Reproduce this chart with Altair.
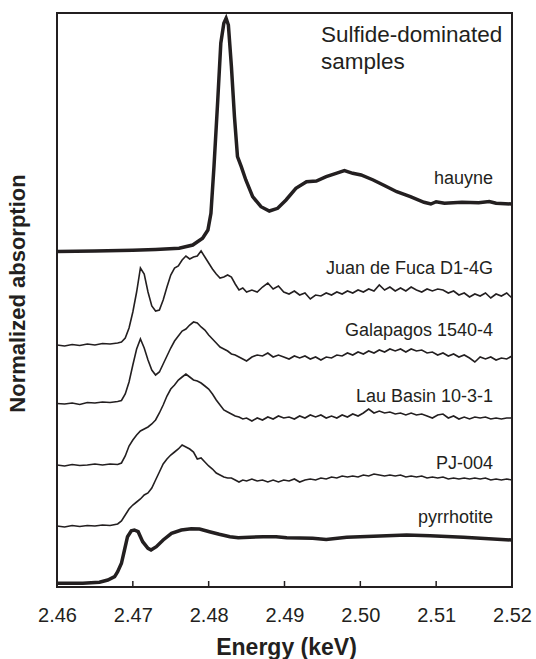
import altair as alt
import pandas as pd

INK = "#231f20"
FONT = "Liberation Sans"

# ---- shared energy grid for the noisy sample spectra (keV) ----
thin_energy = [
    2.460, 2.461, 2.462, 2.463, 2.464, 2.465, 2.466, 2.467, 2.468,
    2.4685, 2.4690, 2.4695, 2.4700, 2.4705, 2.4710, 2.4715, 2.4720, 2.4725, 2.4730,
    2.4735, 2.4740, 2.4745, 2.4750, 2.4755, 2.4760, 2.4765, 2.4770, 2.4775, 2.4780,
    2.4785, 2.4790, 2.4795, 2.4800, 2.4805, 2.4810, 2.4815, 2.4820, 2.4825, 2.4830,
    2.4835, 2.4840, 2.4845, 2.4850,
    2.4857, 2.4864, 2.4871, 2.4878, 2.4885, 2.4892, 2.4899, 2.4906, 2.4913, 2.4920,
    2.4927, 2.4934, 2.4941, 2.4948, 2.4955, 2.4962, 2.4969, 2.4976, 2.4983, 2.4990,
    2.4997, 2.5004, 2.5011, 2.5018, 2.5025, 2.5032, 2.5039, 2.5046, 2.5053, 2.5060,
    2.5067, 2.5074, 2.5081, 2.5088, 2.5095, 2.5102, 2.5109, 2.5116, 2.5123, 2.5130,
    2.5137, 2.5144, 2.5151, 2.5158, 2.5165, 2.5172, 2.5179, 2.5186, 2.5193, 2.5200,
]

# ---- stacked (offset) normalized absorption values ----
juan_de_fuca = [
    2.42, 2.41, 2.425, 2.415, 2.43, 2.42, 2.435, 2.43, 2.44,
    2.45, 2.49, 2.59, 2.75, 2.95, 3.19, 3.13, 2.95, 2.81, 2.76,
    2.77, 2.87, 3.00, 3.12, 3.19, 3.21, 3.27, 3.31, 3.28, 3.30,
    3.31, 3.36, 3.30, 3.24, 3.18, 3.13, 3.09, 3.10, 3.12, 3.10,
    3.03, 2.97, 2.99, 2.95,
    2.97, 2.95, 3.00, 3.04, 2.98, 3.01, 2.95, 2.93, 2.96, 2.92,
    2.94, 2.88, 2.92, 2.91, 2.94, 2.92, 2.95, 2.93, 2.96, 2.94,
    2.97, 2.95, 2.98, 2.96, 3.02, 2.97, 3.00, 2.96, 2.99, 2.96,
    3.00, 2.97, 2.95, 2.98, 2.96, 2.98, 2.97, 2.94, 2.96, 2.92,
    2.94, 2.90, 2.93, 2.91, 2.94, 2.89, 2.93, 2.91, 2.94, 2.89,
]
galapagos = [
    1.835, 1.83, 1.84, 1.825, 1.845, 1.84, 1.85, 1.845, 1.855,
    1.865, 1.93, 2.05, 2.22, 2.38, 2.48, 2.39, 2.27, 2.17, 2.12,
    2.15, 2.23, 2.31, 2.39, 2.46, 2.51, 2.56, 2.58, 2.62, 2.65,
    2.64, 2.60, 2.57, 2.52, 2.48, 2.44, 2.40, 2.38, 2.36, 2.33,
    2.32, 2.30, 2.28, 2.26,
    2.30, 2.32, 2.31, 2.34, 2.30, 2.32, 2.30, 2.28, 2.31, 2.29,
    2.31, 2.28, 2.30, 2.27, 2.30, 2.29, 2.32, 2.31, 2.34, 2.32,
    2.35, 2.33, 2.36, 2.34, 2.37, 2.35, 2.38, 2.36, 2.38, 2.35,
    2.38, 2.36, 2.37, 2.34, 2.35, 2.32, 2.34, 2.31, 2.33, 2.30,
    2.32, 2.29, 2.25, 2.30, 2.28, 2.30, 2.27, 2.29, 2.28, 2.31,
]
lau_basin = [
    1.22, 1.21, 1.225, 1.215, 1.22, 1.23, 1.22, 1.23, 1.225,
    1.24, 1.31, 1.41, 1.47, 1.52, 1.56, 1.58, 1.60, 1.63, 1.67,
    1.74, 1.82, 1.91, 1.98, 2.02, 2.07, 2.10, 2.13, 2.10, 2.07,
    2.06, 2.04, 2.01, 1.98, 1.93, 1.87, 1.82, 1.77, 1.75, 1.73,
    1.71, 1.70, 1.68, 1.69,
    1.66, 1.69, 1.67, 1.70, 1.68, 1.71, 1.69, 1.70, 1.68, 1.71,
    1.69, 1.72, 1.70, 1.72, 1.69, 1.71, 1.69, 1.72, 1.70, 1.73,
    1.71, 1.74, 1.78, 1.74, 1.76, 1.74, 1.75, 1.73, 1.74, 1.72,
    1.74, 1.72, 1.73, 1.71, 1.69, 1.72, 1.73, 1.69, 1.71, 1.68,
    1.70, 1.68, 1.70, 1.69, 1.70, 1.68, 1.69, 1.68, 1.69, 1.69,
]
pj_004 = [
    0.61, 0.60, 0.615, 0.605, 0.615, 0.61, 0.62, 0.615, 0.63,
    0.66, 0.72, 0.78, 0.82, 0.85, 0.88, 0.92, 0.94, 0.99, 1.07,
    1.15, 1.23, 1.28, 1.32, 1.35, 1.38, 1.42, 1.40, 1.38, 1.35,
    1.28, 1.29, 1.25, 1.21, 1.18, 1.14, 1.12, 1.10, 1.09, 1.09,
    1.07, 1.05, 1.07, 1.06,
    1.08, 1.06, 1.07, 1.05, 1.07, 1.05, 1.07, 1.06, 1.08, 1.05,
    1.07, 1.08, 1.07, 1.09, 1.08, 1.10, 1.09, 1.11, 1.10, 1.11,
    1.10, 1.12, 1.11, 1.13, 1.12, 1.11, 1.12, 1.11, 1.12, 1.10,
    1.11, 1.10, 1.11, 1.09, 1.10, 1.09, 1.10, 1.08, 1.09, 1.08,
    1.09, 1.08, 1.09, 1.08, 1.09, 1.07, 1.08, 1.07, 1.08, 1.07,
]

# ---- reference standards (smooth, bold) ----
hauyne_energy = [
    2.4600, 2.4650, 2.4700, 2.4730, 2.4761, 2.4779, 2.4792, 2.4799, 2.4803, 2.4807,
    2.4812, 2.4816, 2.4820, 2.4823, 2.4826, 2.4830, 2.4834, 2.4838, 2.4843, 2.4849,
    2.4858, 2.4869, 2.4880, 2.4891, 2.4902, 2.4915, 2.4929, 2.4942, 2.4955, 2.4968,
    2.4979, 2.4990, 2.5001, 2.5017, 2.5033, 2.5048, 2.5066, 2.5084, 2.5093, 2.5100,
    2.5111, 2.5134, 2.5156, 2.5170, 2.5179, 2.5200,
]
hauyne = [
    3.355, 3.360, 3.367, 3.375, 3.387, 3.420, 3.487, 3.570, 3.737, 4.203,
    4.870, 5.437, 5.637, 5.687, 5.620, 5.203, 4.703, 4.303, 4.203, 4.070,
    3.903, 3.803, 3.760, 3.787, 3.870, 3.987, 4.053, 4.060, 4.103, 4.137,
    4.163, 4.137, 4.120, 4.070, 4.010, 3.953, 3.903, 3.847, 3.830, 3.853,
    3.837, 3.847, 3.843, 3.855, 3.837, 3.830,
]
pyrrhotite_energy = [
    2.4600, 2.4634, 2.4656, 2.4667, 2.4676, 2.4680, 2.4685, 2.4689, 2.4693, 2.4698,
    2.4702, 2.4707, 2.4713, 2.4720, 2.4724, 2.4731, 2.4740, 2.4751, 2.4764, 2.4777,
    2.4788, 2.4801, 2.4814, 2.4828, 2.4839, 2.4854, 2.4872, 2.4889, 2.4903, 2.4937,
    2.4955, 2.4982, 2.5026, 2.5061, 2.5092, 2.5136, 2.5200,
]
pyrrhotite = [
    0.037, 0.037, 0.047, 0.070, 0.103, 0.153, 0.237, 0.370, 0.503, 0.563,
    0.570, 0.553, 0.453, 0.387, 0.370, 0.403, 0.470, 0.537, 0.570, 0.583,
    0.580, 0.553, 0.527, 0.503, 0.493, 0.497, 0.503, 0.503, 0.493, 0.487,
    0.475, 0.497, 0.510, 0.520, 0.513, 0.497, 0.470,
]

# ---- annotations ----
label_names = ["hauyne", "Juan de Fuca D1-4G", "Galapagos 1540-4",
               "Lau Basin 10-3-1", "PJ-004", "pyrrhotite"]
label_values = [4.08, 3.181, 2.557, 1.901, 1.234, 0.691]
label_energy = 2.5175
title_lines = ["Sulfide-dominated", "samples"]
title_values = [5.453, 5.177]
title_energy = 2.4948
tick_values = [2.46, 2.47, 2.48, 2.49, 2.50, 2.51, 2.52]
inner_ticks = [2.47, 2.48, 2.49, 2.50, 2.51]

# ---- tables ----
thin_rows = []
for name, vals in [("Juan de Fuca D1-4G", juan_de_fuca), ("Galapagos 1540-4", galapagos),
                   ("Lau Basin 10-3-1", lau_basin), ("PJ-004", pj_004)]:
    for e, v in zip(thin_energy, vals):
        thin_rows.append({"sample": name, "energy": e, "value": v})
thin_df = pd.DataFrame(thin_rows)

thick_rows = []
for name, es, vals in [("hauyne", hauyne_energy, hauyne),
                       ("pyrrhotite", pyrrhotite_energy, pyrrhotite)]:
    for e, v in zip(es, vals):
        thick_rows.append({"sample": name, "energy": e, "value": v})
thick_df = pd.DataFrame(thick_rows)

label_df = pd.DataFrame({"text": label_names, "value": label_values,
                         "energy": [label_energy] * len(label_names)})
title_df = pd.DataFrame({"text": title_lines, "value": title_values,
                         "energy": [title_energy] * len(title_lines)})
tick_df = pd.DataFrame({"energy": inner_ticks, "value": [0.0] * len(inner_ticks),
                        "top": [0.06] * len(inner_ticks)})

x_scale = alt.Scale(domain=[2.46, 2.52], nice=False, zero=False)
y_scale = alt.Scale(domain=[0, 5.74], nice=False, zero=False)

x_axis = alt.Axis(values=tick_values, format=".2f", labelFontSize=20, labelFont=FONT,
                  labelColor=INK, labelPadding=18, labelFlush=False, ticks=False,
                  tickSize=0, domain=False, grid=False, title="Energy (keV)",
                  titleFontSize=23, titleFont=FONT, titleFontWeight="bold",
                  titleColor=INK, titleX=229, titleY=67, titleBaseline="alphabetic",
                  titleAlign="center")
y_axis = alt.Axis(labels=False, ticks=False, domain=False, grid=False,
                  title="Normalized absorption", titleFontSize=22, titleFont=FONT,
                  titleFontWeight="bold", titleColor=INK, titleAngle=270,
                  titleX=-40, titleY=280, titleAlign="center", titleBaseline="middle")

X = alt.X("energy:Q", scale=x_scale, axis=x_axis)
Y = alt.Y("value:Q", scale=y_scale, axis=y_axis)

thick = alt.Chart(thick_df).mark_line(color=INK, strokeWidth=3.5).encode(
    x=X, y=Y, detail="sample:N")
thin = alt.Chart(thin_df).mark_line(color=INK, strokeWidth=1.6).encode(
    x=X, y=Y, detail="sample:N")
ticks = alt.Chart(tick_df).mark_rule(color=INK, strokeWidth=1.5).encode(
    x=X, y=Y, y2="top:Q")
labels = alt.Chart(label_df).mark_text(align="right", baseline="middle", fontSize=18,
                                       font=FONT, color=INK).encode(x=X, y=Y, text="text:N")
title = alt.Chart(title_df).mark_text(align="left", baseline="alphabetic", fontSize=22.5,
                                      font=FONT, color=INK).encode(x=X, y=Y, text="text:N")

chart = alt.layer(thick, thin, ticks, labels, title).properties(
    width=455, height=574,
    autosize=alt.AutoSizeParams(type="none"),
    padding={"left": 57, "top": 13, "right": 24, "bottom": 72},
    background="white",
).configure_view(stroke=INK, strokeWidth=2)

chart.save("out.html", embed_options={"renderer": "svg", "actions": False})
